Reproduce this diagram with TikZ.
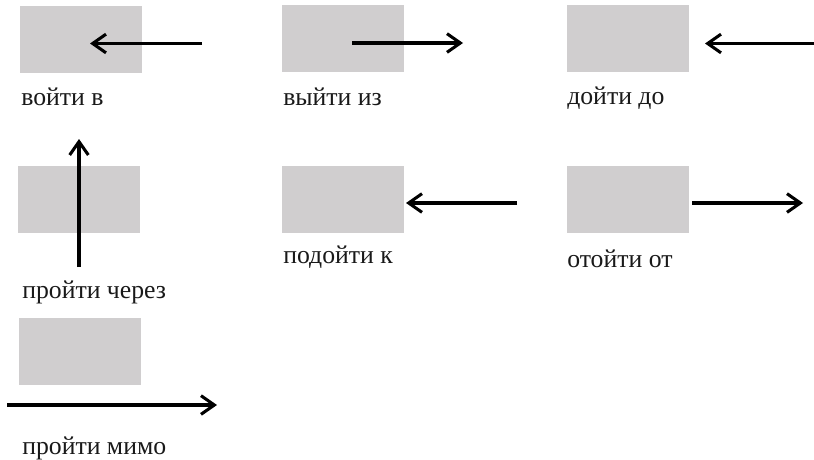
\documentclass[tikz,border=0pt]{standalone}
\usepackage{fontspec}
\setmainfont{Liberation Serif}
\usetikzlibrary{arrows.meta}
\definecolor{boxgray}{RGB}{208,206,207}
\begin{document}
\begin{tikzpicture}[x=0.75pt,y=-0.75pt,
  place/.style={fill=boxgray, draw=none, minimum width=91.5pt, minimum height=50.25pt, inner sep=0pt, anchor=north west},
  lbl/.style={anchor=base west, inner sep=0pt, font=\fontsize{19.3}{21}\selectfont, text=black!90},
  mov/.style={line width=2.3pt, -{Straight Barb[length=10pt,width=14pt,line width=2.3pt]}}]
\useasboundingbox (0,0) rectangle (814,460);
% boxes
\node[place] (b1) at (20,6) {};
\node[place] (b2) at (282,5) {};
\node[place] (b3) at (567,5) {};
\node[place] (b4) at (18,166) {};
\node[place] (b5) at (282,166) {};
\node[place] (b6) at (567,166) {};
\node[place] (b7) at (19,318) {};
% arrow ends
\coordinate (s1) at (202,43.5); \coordinate (e1) at (90,43.5);
\coordinate (s2) at (352,43);   \coordinate (e2) at (463,43);
\coordinate (s3) at (814,43.5); \coordinate (e3) at (705,43.5);
\coordinate (s4) at (79,267);   \coordinate (e4) at (79,139);
\coordinate (s5) at (517,203);  \coordinate (e5) at (406,203);
\coordinate (s6) at (692,203);  \coordinate (e6) at (803,203);
\coordinate (s7) at (7,405);    \coordinate (e7) at (217,405);
\draw[mov] (s1) -- (e1);
\draw[mov] (s2) -- (e2);
\draw[mov] (s3) -- (e3);
\draw[mov] (s4) -- (e4);
\draw[mov] (s5) -- (e5);
\draw[mov] (s6) -- (e6);
\draw[mov] (s7) -- (e7);
% labels
\node[lbl] (l1) at (21,106) {войти в};
\node[lbl] (l2) at (283,106) {выйти из};
\node[lbl] (l3) at (567,104) {дойти до};
\node[lbl] (l4) at (22,298) {пройти через};
\node[lbl] (l5) at (283,263) {подойти к};
\node[lbl] (l6) at (567,267) {отойти от};
\node[lbl] (l7) at (22,454) {пройти мимо};
\end{tikzpicture}
\end{document}
